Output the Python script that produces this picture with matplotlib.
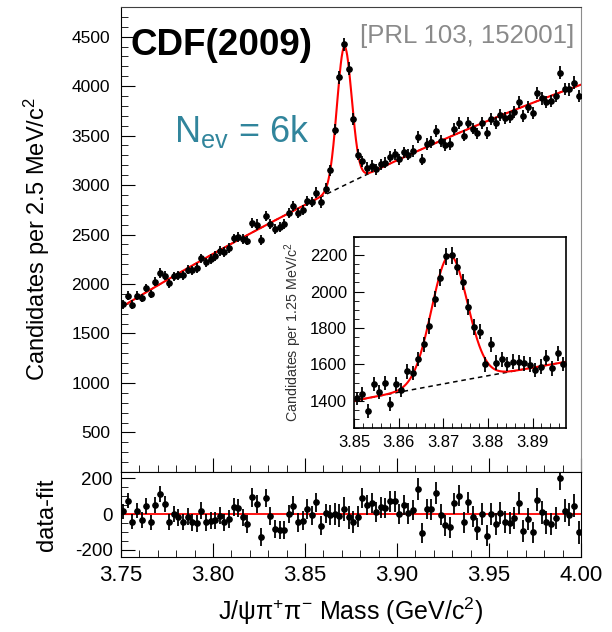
import numpy as np
import matplotlib
matplotlib.use("Agg")
import matplotlib.pyplot as plt
from matplotlib.ticker import MultipleLocator

plt.rcParams['font.family'] = ['Liberation Sans', 'DejaVu Sans']
plt.rcParams['mathtext.fontset'] = 'custom'
plt.rcParams['mathtext.rm'] = 'Liberation Sans'
plt.rcParams['mathtext.it'] = 'Liberation Sans:italic'
plt.rcParams['axes.unicode_minus'] = False

# main histogram: 100 bins of 2.5 MeV between 3.75 and 4.00 GeV
bin_lo = 3.75
bin_w = 0.0025
counts = [1793, 1881, 1791, 1881, 1856, 1960, 1898, 2024, 2111, 2082,
          2007, 2080, 2088, 2090, 2145, 2140, 2161, 2258, 2218, 2254,
          2283, 2334, 2321, 2366, 2460, 2477, 2451, 2439, 2613, 2601,
          2443, 2684, 2610, 2559, 2578, 2602, 2716, 2787, 2717, 2750,
          2839, 2828, 2923, 2825, 2964, 3149, 3561, 4088, 4423, 4177,
          3669, 3307, 3241, 3172, 3192, 3161, 3211, 3227, 3288, 3309,
          3260, 3331, 3306, 3345, 3484, 3258, 3414, 3434, 3545, 3443,
          3406, 3413, 3568, 3630, 3500, 3632, 3571, 3522, 3625, 3523,
          3664, 3627, 3707, 3677, 3687, 3736, 3836, 3701, 3785, 3728,
          3929, 3876, 3837, 3846, 3898, 4137, 3973, 3968, 4036, 3903]

# data - fit, same bins
resid = [15, 75, -43, 19, -34, 43, -47, 52, 112, 56,
         -47, 0, -19, -43, -15, -47, -52, 19, -47, -37,
         -34, -9, -47, -28, 41, 32, -19, -56, 93, 56,
         -127, 90, -9, -84, -90, -90, 0, 47, -47, -37,
         28, -6, 65, -65, 4, -4, 0, -9, 28, -19,
         -43, -15, 88, 52, 62, 9, 37, 32, 71, 71,
         0, 50, 4, 22, 140, -107, 28, 28, 118, -4,
         -62, -75, 60, 103, -47, 65, -15, -84, 0, -122,
         0, -56, 6, -43, -52, -22, 60, -93, -28, -103,
         80, 9, -47, -56, -22, 200, 19, -4, 47, -103]

# inset histogram: 1.25 MeV bins from 3.85
inset_lo = 3.85
inset_w = 0.00125
inset_counts = [1413, 1435, 1343, 1492, 1449, 1499, 1382, 1490, 1459, 1561,
                1554, 1629, 1710, 1810, 1957, 2076, 2195, 2200, 2136, 2054,
                1913, 1806, 1779, 1600, 1710, 1609, 1627, 1601, 1614, 1611,
                1605, 1598, 1569, 1587, 1636, 1578, 1660, 1601]

# fit: quadratic background + gaussian peak (per 2.5 MeV bin)
bg_ref = 3.875
bg_c0, bg_c1, bg_c2 = 3030, 9000, -9000
peak_amp, peak_mean, peak_sigma = 1400, 3.8714, 0.0040


def background(m):
    d = m - bg_ref
    return bg_c0 + bg_c1*d + bg_c2*d**2


def fit(m):
    return background(m) + peak_amp*np.exp(-0.5*((m - peak_mean)/peak_sigma)**2)


counts = np.array(counts, dtype=float)
resid = np.array(resid, dtype=float)
inset_counts = np.array(inset_counts, dtype=float)
x = bin_lo + bin_w*(np.arange(len(counts)) + 0.5)
xi = inset_lo + inset_w*(np.arange(len(inset_counts)) + 0.5)
mm = np.linspace(3.75, 4.00, 2000)
mi = np.linspace(3.85, 3.8975, 800)

fig = plt.figure(figsize=(6.12, 6.32), dpi=100)
ax = fig.add_axes([0.1977, 0.2532, 0.7516, 0.7358])
axr = fig.add_axes([0.1977, 0.1187, 0.7516, 0.1345], sharex=ax)

pt = dict(fmt='o', color='k', ms=3.8, elinewidth=1.3, capsize=0, zorder=3)

ax.plot(mm, background(mm), color='k', ls=(0, (3, 2.5)), lw=1.1, zorder=1)
ax.plot(mm, fit(mm), color='red', lw=1.5, zorder=2)
ax.errorbar(x, counts, yerr=np.sqrt(counts), **pt)
ax.set_xlim(3.75, 4.00)
ax.set_ylim(100, 4800)
ax.yaxis.set_major_locator(MultipleLocator(500))
ax.yaxis.set_minor_locator(MultipleLocator(100))
ax.xaxis.set_major_locator(MultipleLocator(0.05))
ax.xaxis.set_minor_locator(MultipleLocator(0.01))
ax.tick_params(which='both', direction='in', top=False, right=False, labelbottom=False)
ax.tick_params(which='major', length=10, labelsize=12.5, pad=8)
ax.tick_params(which='minor', length=5)
ax.set_ylabel('Candidates per 2.5 MeV/c$^2$', fontsize=17, labelpad=14)
ax.spines['right'].set_color('0.55')
ax.spines['top'].set_color('0.25')

ax.text(0.02, 0.897, 'CDF(2009)', transform=ax.transAxes, fontsize=26.5,
        fontweight='bold', color='k')
ax.text(0.985, 0.922, '[PRL 103, 152001]', transform=ax.transAxes, fontsize=18.5,
        color='#8a8a8a', ha='right')
ax.text(0.115, 0.71, 'N$_{\\mathrm{ev}}$ = 6k', transform=ax.transAxes, fontsize=26,
        color='#31859C')

axr.axhline(0, color='red', lw=1.3, zorder=2)
axr.errorbar(x, resid, yerr=np.sqrt(counts), **pt)
axr.set_ylim(-240, 235)
axr.yaxis.set_major_locator(MultipleLocator(200))
axr.yaxis.set_minor_locator(MultipleLocator(50))
axr.tick_params(which='both', direction='in', top=False, right=False)
axr.tick_params(which='major', length=10, pad=6)
axr.tick_params(which='minor', length=5)
axr.tick_params(axis='x', labelsize=16)
axr.tick_params(axis='y', labelsize=13.5)
axr.set_xticks([3.75, 3.80, 3.85, 3.90, 3.95, 4.00])
axr.set_xticklabels(['3.75', '3.80', '3.85', '3.90', '3.95', '4.00'])
axr.set_ylabel('data-fit', fontsize=17, labelpad=12)
axr.set_xlabel('J/ψπ$^{+}$π$^{-}$ Mass (GeV/c$^{2}$)', fontsize=18, labelpad=7)

# inset zoom on the peak
axi = fig.add_axes([0.5784, 0.3228, 0.3464, 0.3022])
axi.plot(mi, 0.5*background(mi), color='k', ls=(0, (3, 2.5)), lw=1.1, zorder=1)
axi.plot(mi, 0.5*fit(mi), color='red', lw=1.5, zorder=2)
axi.errorbar(xi, inset_counts, yerr=np.sqrt(inset_counts), **pt)
axi.set_xlim(3.85, 3.8975)
axi.set_ylim(1250, 2300)
axi.yaxis.set_major_locator(MultipleLocator(200))
axi.yaxis.set_minor_locator(MultipleLocator(50))
axi.xaxis.set_major_locator(MultipleLocator(0.01))
axi.xaxis.set_minor_locator(MultipleLocator(0.002))
axi.tick_params(which='both', direction='in', top=False, right=False)
axi.tick_params(which='major', length=7, labelsize=12, pad=5)
axi.tick_params(which='minor', length=3.5)
axi.set_xticks([3.85, 3.86, 3.87, 3.88, 3.89])
axi.set_xticklabels(['3.85', '3.86', '3.87', '3.88', '3.89'])
axi.set_ylabel('Candidates per 1.25 MeV/c$^2$', fontsize=10.3, color='#333333', labelpad=4)
for s in axi.spines.values():
    s.set_linewidth(1.2)

fig.savefig('out.png', dpi=100)
